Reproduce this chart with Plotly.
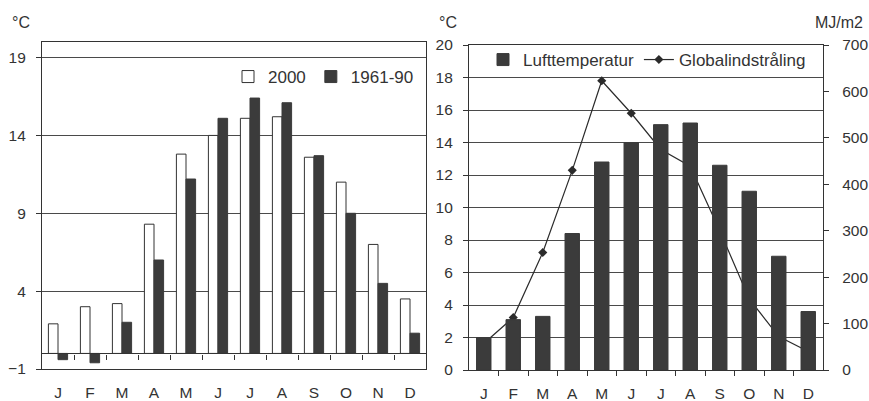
import plotly.graph_objects as go

# Monthly data
months = ["J", "F", "M", "A", "M", "J", "J", "A", "S", "O", "N", "D"]
temp_2000 = [1.9, 3.0, 3.2, 8.3, 12.8, 14.0, 15.1, 15.2, 12.6, 11.0, 7.0, 3.5]
temp_normal = [-0.4, -0.6, 2.0, 6.0, 11.2, 15.1, 16.4, 16.1, 12.7, 9.0, 4.5, 1.3]
luft_temp = [2.0, 3.1, 3.3, 8.4, 12.8, 14.0, 15.1, 15.2, 12.6, 11.0, 7.0, 3.6]
global_rad = [57, 113, 253, 430, 623, 553, 475, 439, 300, 153, 72, 40]

left_ticks = [-1, 4, 9, 14, 19]

x = list(range(len(months)))
bounds = [i + 0.5 for i in range(len(months) - 1)]

W, H = 869, 401
FONT = "Liberation Sans, Arial, sans-serif"
TXT = "#333333"
DARK = "#3b3b3b"
GRID = "#4a4a4a"

# plot areas (paper fractions)
left_x = [42 / W, 426 / W]
left_y = [1 - 369 / H, 1 - 42 / H]
right_x = [469 / W, 823 / W]
right_y = [1 - 370 / H, 1 - 45 / H]
left_range = [-1, 20]
zero_pos = left_y[0] + (0 - left_range[0]) / (left_range[1] - left_range[0]) * (left_y[1] - left_y[0])

fig = go.Figure()

# left chart: 2000 vs 1961-90
fig.add_trace(go.Bar(x=x, y=temp_2000, name="2000", offset=-0.3, width=0.3,
                     marker=dict(color="white", line=dict(color=TXT, width=1)),
                     xaxis="x", yaxis="y", legend="legend"))
fig.add_trace(go.Bar(x=x, y=temp_normal, name="1961-90", offset=0, width=0.3,
                     marker=dict(color=DARK, line=dict(color=DARK, width=1)),
                     xaxis="x", yaxis="y", legend="legend"))
# invisible helper so the zero-line tick axis is drawn
fig.add_trace(go.Scatter(x=x, y=temp_2000, mode="lines", line=dict(width=0), opacity=0,
                         hoverinfo="skip", showlegend=False, xaxis="x3", yaxis="y"))

# right chart: temperature bars + radiation line
fig.add_trace(go.Bar(x=x, y=luft_temp, name="Lufttemperatur", width=0.49,
                     marker=dict(color=DARK, line=dict(color=DARK, width=1)),
                     xaxis="x2", yaxis="y3", legend="legend2"))
fig.add_trace(go.Scatter(x=x, y=global_rad, name="Globalindstråling", mode="lines+markers",
                         line=dict(color="#2b2b2b", width=1.2),
                         marker=dict(symbol="diamond", size=7, color="#2b2b2b"),
                         xaxis="x2", yaxis="y2", legend="legend2"))

axis_common = dict(showline=True, linecolor="#333333", linewidth=1.2,
                   tickfont=dict(family=FONT, size=15.5, color=TXT), automargin=False)

fig.update_layout(
    width=W, height=H,
    margin=dict(l=0, r=0, t=0, b=0),
    template="none",
    paper_bgcolor="white", plot_bgcolor="white",
    font=dict(family=FONT, size=15, color=TXT),
    xaxis=dict(domain=left_x, anchor="y", range=[-0.5, 11.5], tickvals=x, ticktext=months,
               ticks="", mirror=True, showgrid=False, zeroline=False,
               ticklabelstandoff=9, **axis_common),
    yaxis=dict(domain=left_y, anchor="x", range=left_range, tickvals=left_ticks,
               ticks="outside", ticklen=5, tickcolor="#333333", mirror=True,
               showgrid=True, gridcolor=GRID, gridwidth=1, zeroline=False,
               ticklabelstandoff=7, **axis_common),
    xaxis3=dict(overlaying="x", anchor="free", position=zero_pos, side="bottom",
                range=[-0.5, 11.5], tickvals=bounds, ticks="outside", ticklen=5,
                tickcolor="#333333", showticklabels=False, showgrid=False, zeroline=False,
                showline=True, linecolor="#333333", linewidth=1.2, automargin=False),
    xaxis2=dict(domain=right_x, anchor="y2", range=[-0.5, 11.5], tickvals=x, ticktext=months,
                ticks="", mirror=True, showgrid=False, zeroline=False,
                minor=dict(tickvals=bounds, ticks="outside", ticklen=5, tickcolor="#333333"),
                ticklabelstandoff=9, **axis_common),
    yaxis2=dict(domain=right_y, anchor="x2", side="right", range=[0, 700], dtick=100,
                ticks="outside", ticklen=5, tickcolor="#333333", showgrid=False,
                zeroline=False, ticklabelstandoff=10, **axis_common),
    yaxis3=dict(overlaying="y2", anchor="x2", side="left", range=[0, 20], dtick=2,
                ticks="outside", ticklen=5, tickcolor="#333333", showgrid=True,
                gridcolor=GRID, gridwidth=1, zeroline=False, ticklabelstandoff=7,
                **axis_common),
    legend=dict(orientation="h", x=228 / W, y=1 - 77 / H, xanchor="left", yanchor="middle",
                bgcolor="rgba(0,0,0,0)", font=dict(family=FONT, size=17, color=TXT),
                itemwidth=30, traceorder="normal"),
    legend2=dict(orientation="h", x=483 / W, y=1 - 60 / H, xanchor="left", yanchor="middle",
                 bgcolor="rgba(0,0,0,0)", font=dict(family=FONT, size=17, color=TXT),
                 itemwidth=30, traceorder="normal"),
    showlegend=True,
)

# unit labels above the axes (pixel positions -> paper fractions)
units = [("°C", 10, "left"), ("°C", 437, "left"), ("MJ/m2", 865, "right")]
for text, px, anchor in units:
    fig.add_annotation(text=text, x=px / W, y=1 - 22 / H, xref="paper", yref="paper",
                       xanchor=anchor, yanchor="middle", showarrow=False,
                       font=dict(family=FONT, size=16, color=TXT))

fig.write_html("out.html", config={"displayModeBar": False},
               post_script="document.body.style.margin='0';")
